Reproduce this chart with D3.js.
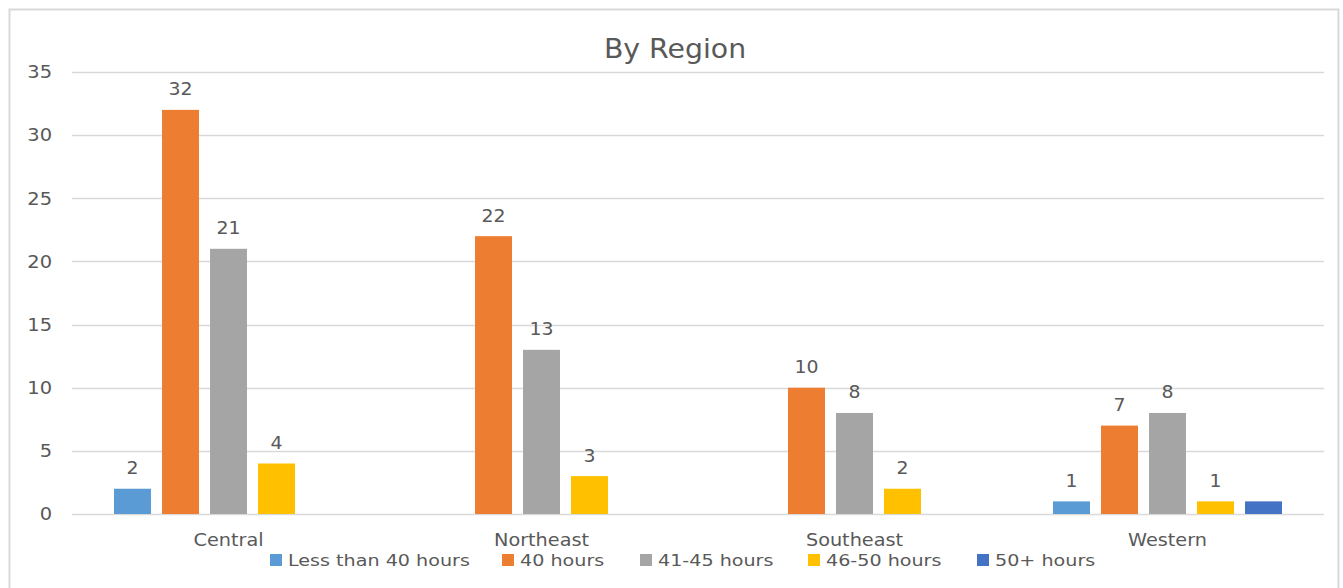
<!DOCTYPE html>
<html>
<head>
<meta charset="utf-8">
<script src="https://cdn.jsdelivr.net/npm/d3@7"></script>
<style>
  body { margin: 0; background: #fff; }
  text { font-family: "DejaVu Sans", sans-serif; fill: #595959; }
</style>
</head>
<body>
<svg id="stage" width="1343" height="588"></svg>
<script>
var regions = ['Central', 'Northeast', 'Southeast', 'Western'],
    series = ['Less than 40 hours', '40 hours', '41-45 hours', '46-50 hours', '50+ hours'],
    colors = ['#5B9BD5', '#ED7D31', '#A5A5A5', '#FFC000', '#4472C4'],
    lessThan40 = [2, null, null, 1],
    hours40 = [32, 22, 10, 7],
    hours41to45 = [21, 13, 8, 8],
    hours46to50 = [4, 3, 2, 1],
    hours50plus = [null, null, null, 1],
    showLabels = [true, true, true, true, false],
    yTicks = [0, 5, 10, 15, 20, 25, 30, 35];

var values = [lessThan40, hours40, hours41to45, hours46to50, hours50plus];

var svg = d3.select('#stage'),
    LEFT = 72,
    RIGHT = 1324,
    TOP = 72,
    BOTTOM = 514;

// text in the original is a bit wider than DejaVu, so stretch it
function stretch(sx) {
  return function (sel) { sel.attr('transform', 'scale(' + sx + ',1)'); };
}

// chart frame
svg.append('rect')
  .attr('x', 9.5).attr('y', 9.5)
  .attr('width', 1329).attr('height', 600)
  .attr('fill', '#fff')
  .attr('stroke', '#d9d9d9')
  .attr('stroke-width', 2);

var x0 = d3.scaleBand().domain(regions).range([LEFT, RIGHT]);
var x1 = d3.scaleBand().domain(series).range([0, x0.bandwidth()])
  .paddingInner(0.23).paddingOuter(0.875);
var y = d3.scaleLinear().domain([0, 35]).range([BOTTOM, TOP]);

// gridlines
svg.append('g').selectAll('line')
  .data(yTicks)
  .enter().append('line')
  .attr('x1', LEFT).attr('x2', RIGHT)
  .attr('y1', function (d) { return Math.round(y(d)) + 0.5; })
  .attr('y2', function (d) { return Math.round(y(d)) + 0.5; })
  .attr('stroke', '#d9d9d9')
  .attr('stroke-width', 1.3);

// y axis labels
var yAxis = svg.append('g')
  .attr('transform', 'translate(' + (LEFT - 20) + ',0)')
  .call(d3.axisLeft(y).tickValues(yTicks).tickSize(0).tickPadding(0));
yAxis.select('.domain').remove();
yAxis.selectAll('text')
  .attr('fill', '#595959')
  .style('font-family', '"DejaVu Sans", sans-serif')
  .style('font-size', '18px')
  .call(stretch(1.08));

// x axis labels
var xAxis = svg.append('g')
  .attr('transform', 'translate(0,' + (BOTTOM + 19) + ')')
  .call(d3.axisBottom(x0).tickSize(0).tickPadding(0));
xAxis.select('.domain').remove();
xAxis.selectAll('text')
  .attr('fill', '#595959')
  .style('font-family', '"DejaVu Sans", sans-serif')
  .style('font-size', '18px')
  .call(stretch(1.07));

// bars
var flat = [];
values.forEach(function (arr, si) {
  arr.forEach(function (v, ri) {
    if (v !== null) flat.push({ region: regions[ri], series: series[si], si: si, value: v });
  });
});

var groups = svg.append('g').selectAll('g')
  .data(flat)
  .enter().append('g');

groups.append('rect')
  .attr('x', function (d) { return x0(d.region) + x1(d.series); })
  .attr('y', function (d) { return y(d.value); })
  .attr('width', x1.bandwidth())
  .attr('height', function (d) { return y(0) - y(d.value); })
  .attr('fill', function (d) { return colors[d.si]; });

groups.filter(function (d) { return showLabels[d.si]; })
  .append('text')
  .attr('transform', function (d) {
    var cx = x0(d.region) + x1(d.series) + x1.bandwidth() / 2;
    return 'translate(' + cx + ',' + (y(d.value) - 14.5) + ') scale(1.05,1)';
  })
  .attr('text-anchor', 'middle')
  .style('font-size', '18px')
  .text(function (d) { return d.value; });

// title
svg.append('text')
  .attr('transform', 'translate(675,57.5) scale(1.05,1)')
  .attr('text-anchor', 'middle')
  .style('font-size', '27px')
  .text('By Region');

// legend
var legendX = [270, 502, 640, 808, 977];
var legend = svg.append('g').selectAll('g')
  .data(series)
  .enter().append('g')
  .attr('transform', function (d, i) { return 'translate(' + legendX[i] + ',554)'; });

legend.append('rect')
  .attr('width', 12).attr('height', 12)
  .attr('fill', function (d, i) { return colors[i]; });

legend.append('text')
  .attr('transform', 'translate(18,12) scale(1.16,1)')
  .style('font-size', '16.5px')
  .text(function (d) { return d; });
</script>
</body>
</html>
